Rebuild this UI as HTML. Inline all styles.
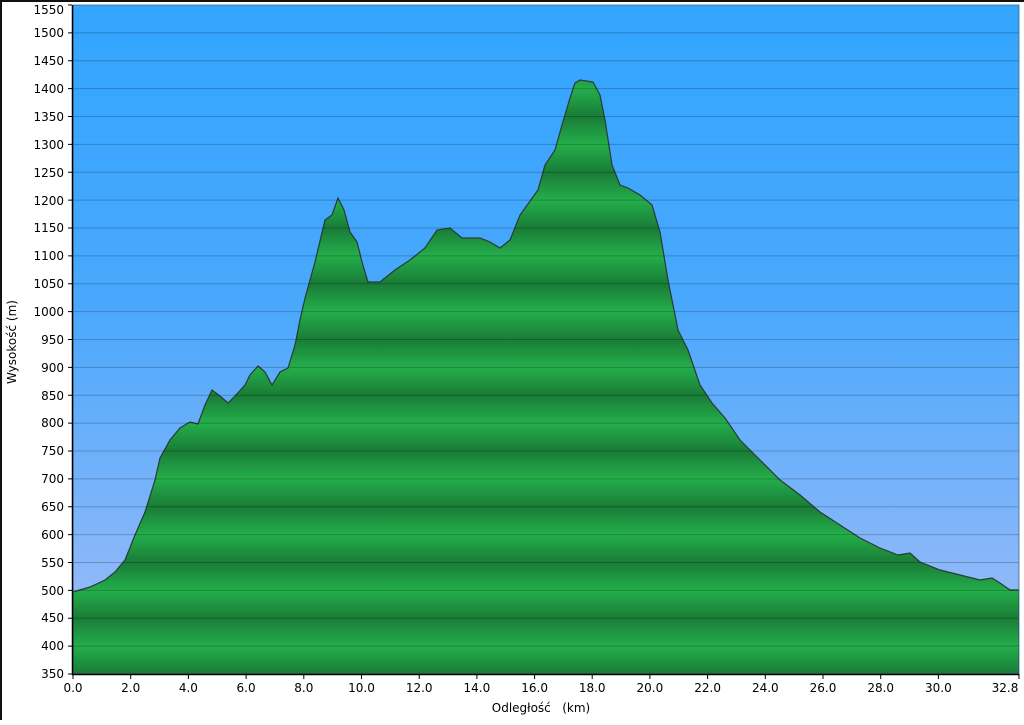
<!DOCTYPE html>
<html><head><meta charset="utf-8"><style>
html,body{margin:0;padding:0;background:#fff;}
body{width:1024px;height:720px;overflow:hidden;}
text{font-family:"DejaVu Sans","Liberation Sans",sans-serif;font-size:12px;fill:#000;}
</style></head><body>
<svg width="1024" height="720" xmlns="http://www.w3.org/2000/svg">
<defs>
<linearGradient id="sky" x1="0" y1="0" x2="0" y2="1">
<stop offset="0" stop-color="#32a5ff"/><stop offset="0.45" stop-color="#4aa8fc"/><stop offset="1" stop-color="#a3bdf8"/>
</linearGradient>
<linearGradient id="band" gradientUnits="userSpaceOnUse" x1="0" y1="478.9" x2="0" y2="534.65" spreadMethod="repeat">
<stop offset="0" stop-color="#24ae4b"/><stop offset="0.5" stop-color="#197c37"/><stop offset="1" stop-color="#24ae4b"/>
</linearGradient>
<clipPath id="pc"><rect x="73" y="5" width="946" height="669"/></clipPath>
</defs>
<rect x="0" y="0" width="1024" height="2" fill="#111"/>
<rect x="0" y="0" width="2" height="720" fill="#111"/>
<rect x="73" y="5" width="946" height="669" fill="url(#sky)"/>
<g clip-path="url(#pc)">
<path fill="url(#band)" stroke="#2a3a35" stroke-width="1.2" d="M73,592 L90,587 L105,580 L115,572 L125,560 L135,535 L145,512 L155,480 L160,458 L170,440 L180,428 L190,422 L198,424 L205,405 L212,390 L220,396 L228,403 L235,396 L245,385 L250,375 L258,366 L265,372 L272,385 L280,372 L288,368 L295,345 L300,320 L305,298 L315,262 L325,220 L332,215 L338,198 L344,210 L350,232 L357,242 L362,262 L368,282 L380,282 L395,270 L410,260 L425,248 L437,230 L450,228 L462,238 L480,238 L490,242 L500,248 L510,240 L520,215 L528,204 L538,190 L545,165 L555,150 L562,125 L570,98 L575,83 L580,80 L593,82 L600,95 L605,120 L612,165 L620,185 L628,188 L640,195 L652,205 L660,232 L668,280 L678,330 L688,350 L700,385 L712,403 L725,418 L740,440 L760,460 L780,480 L800,495 L820,512 L840,525 L860,538 L880,548 L898,555 L910,553 L920,562 L940,570 L960,575 L980,580 L992,578 L1000,583 L1010,590 L1019,590 L1019,674 L73,674 Z"/>
<g stroke="#000" stroke-opacity="0.22" stroke-width="1">
<line x1="73" x2="1019" y1="32.9" y2="32.9"/><line x1="73" x2="1019" y1="60.8" y2="60.8"/><line x1="73" x2="1019" y1="88.6" y2="88.6"/><line x1="73" x2="1019" y1="116.5" y2="116.5"/><line x1="73" x2="1019" y1="144.4" y2="144.4"/><line x1="73" x2="1019" y1="172.3" y2="172.3"/><line x1="73" x2="1019" y1="200.1" y2="200.1"/><line x1="73" x2="1019" y1="228" y2="228"/><line x1="73" x2="1019" y1="255.9" y2="255.9"/><line x1="73" x2="1019" y1="283.8" y2="283.8"/><line x1="73" x2="1019" y1="311.6" y2="311.6"/><line x1="73" x2="1019" y1="339.5" y2="339.5"/><line x1="73" x2="1019" y1="367.4" y2="367.4"/><line x1="73" x2="1019" y1="395.3" y2="395.3"/><line x1="73" x2="1019" y1="423.1" y2="423.1"/><line x1="73" x2="1019" y1="451" y2="451"/><line x1="73" x2="1019" y1="478.9" y2="478.9"/><line x1="73" x2="1019" y1="506.8" y2="506.8"/><line x1="73" x2="1019" y1="534.6" y2="534.6"/><line x1="73" x2="1019" y1="562.5" y2="562.5"/><line x1="73" x2="1019" y1="590.4" y2="590.4"/><line x1="73" x2="1019" y1="618.3" y2="618.3"/><line x1="73" x2="1019" y1="646.1" y2="646.1"/>
</g>
</g>
<rect x="73" y="5" width="946" height="669" fill="none" stroke="#3a6a90" stroke-width="0.8"/>
<line x1="72.5" y1="5" x2="72.5" y2="675" stroke="#000" stroke-width="1.5"/>
<line x1="72" y1="674.5" x2="1019" y2="674.5" stroke="#000" stroke-width="1.5"/>
<g stroke="#000" stroke-width="1">
<path d="M68,5H72M68,32.9H72M68,60.8H72M68,88.6H72M68,116.5H72M68,144.4H72M68,172.3H72M68,200.1H72M68,228H72M68,255.9H72M68,283.8H72M68,311.6H72M68,339.5H72M68,367.4H72M68,395.3H72M68,423.1H72M68,451H72M68,478.9H72M68,506.8H72M68,534.6H72M68,562.5H72M68,590.4H72M68,618.3H72M68,646.1H72M68,674H72"/>
<path d="M73,674V679M130.7,674V679M188.4,674V679M246.1,674V679M303.8,674V679M361.5,674V679M419.2,674V679M476.9,674V679M534.6,674V679M592.2,674V679M649.9,674V679M707.6,674V679M765.3,674V679M823,674V679M880.7,674V679M938.4,674V679M1019,674V679"/>
</g>
<g text-anchor="end">
<text x="64" y="14">1550</text><text x="64" y="37">1500</text><text x="64" y="65">1450</text><text x="64" y="93">1400</text><text x="64" y="121">1350</text><text x="64" y="149">1300</text><text x="64" y="177">1250</text><text x="64" y="205">1200</text><text x="64" y="232">1150</text><text x="64" y="260">1100</text><text x="64" y="288">1050</text><text x="64" y="316">1000</text><text x="64" y="344">950</text><text x="64" y="372">900</text><text x="64" y="400">850</text><text x="64" y="427">800</text><text x="64" y="455">750</text><text x="64" y="483">700</text><text x="64" y="511">650</text><text x="64" y="539">600</text><text x="64" y="567">550</text><text x="64" y="595">500</text><text x="64" y="622">450</text><text x="64" y="650">400</text><text x="64" y="678">350</text>
</g>
<g text-anchor="middle">
<text x="73" y="692">0.0</text><text x="130.7" y="692">2.0</text><text x="188.4" y="692">4.0</text><text x="246.1" y="692">6.0</text><text x="303.8" y="692">8.0</text><text x="361.5" y="692">10.0</text><text x="419.2" y="692">12.0</text><text x="476.9" y="692">14.0</text><text x="534.6" y="692">16.0</text><text x="592.2" y="692">18.0</text><text x="649.9" y="692">20.0</text><text x="707.6" y="692">22.0</text><text x="765.3" y="692">24.0</text><text x="823" y="692">26.0</text><text x="880.7" y="692">28.0</text><text x="938.4" y="692">30.0</text><text x="1005" y="692">32.8</text>
<text x="541" y="712" xml:space="preserve">Odległość   (km)</text>
<text x="0" y="0" transform="translate(16,342) rotate(-90)">Wysokość (m)</text>
</g>
</svg>
</body></html>
